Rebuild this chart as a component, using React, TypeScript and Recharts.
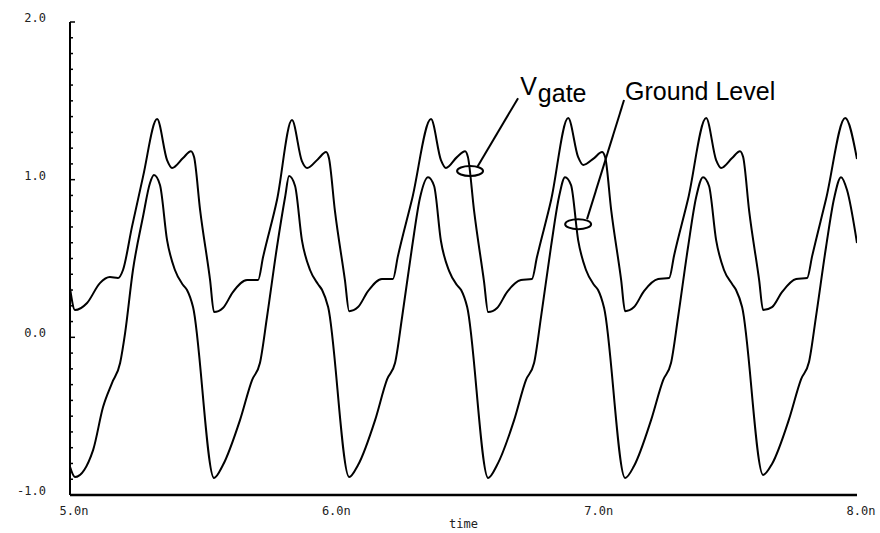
import { Label, Line, LineChart, ReferenceDot, ReferenceLine, XAxis, YAxis } from "recharts";

// simulated waveforms, time in ns, values in V
const vgateTime = [
  5.0, 5.019, 5.065, 5.114, 5.152, 5.183, 5.202, 5.236, 5.278,
  5.332, 5.37, 5.389, 5.431, 5.461, 5.473, 5.496, 5.534, 5.549, 5.583, 5.621, 5.675, 5.717, 5.736, 5.789,
  5.846, 5.884, 5.904, 5.945, 5.976, 5.987, 6.01, 6.048, 6.064, 6.098, 6.136, 6.189, 6.231, 6.25, 6.304,
  6.376, 6.414, 6.433, 6.475, 6.506, 6.517, 6.54, 6.578, 6.594, 6.628, 6.666, 6.719, 6.761, 6.78, 6.834,
  6.899, 6.937, 6.956, 6.998, 7.028, 7.04, 7.063, 7.101, 7.116, 7.15, 7.188, 7.242, 7.284, 7.303, 7.356,
  7.425, 7.463, 7.482, 7.524, 7.554, 7.566, 7.589, 7.627, 7.642, 7.676, 7.714, 7.768, 7.81, 7.829, 7.882,
  7.955, 8.0,
];
const vgateVolts = [
  0.313, 0.173, 0.218, 0.344, 0.382, 0.376, 0.427, 0.699, 1.016,
  1.384, 1.124, 1.074, 1.137, 1.181, 1.143, 0.807, 0.363, 0.16, 0.186, 0.287, 0.363, 0.363, 0.509, 0.871,
  1.378, 1.118, 1.074, 1.13, 1.175, 1.137, 0.8, 0.363, 0.166, 0.192, 0.293, 0.37, 0.37, 0.515, 0.877,
  1.384, 1.124, 1.074, 1.143, 1.181, 1.143, 0.807, 0.357, 0.16, 0.186, 0.287, 0.363, 0.37, 0.509, 0.871,
  1.391, 1.143, 1.093, 1.137, 1.175, 1.143, 0.807, 0.363, 0.166, 0.192, 0.293, 0.37, 0.376, 0.521, 0.877,
  1.391, 1.124, 1.074, 1.137, 1.181, 1.143, 0.8, 0.363, 0.173, 0.192, 0.287, 0.37, 0.376, 0.515, 0.877,
  1.391, 1.131,
];

const groundTime = [
  5.0, 5.019, 5.088, 5.126, 5.16, 5.191, 5.21, 5.24, 5.278, 5.305,
  5.32, 5.343, 5.37, 5.4, 5.431, 5.446, 5.469, 5.549, 5.583, 5.648, 5.694, 5.724, 5.751, 5.789, 5.82,
  5.835, 5.858, 5.884, 5.915, 5.945, 5.961, 5.984, 6.064, 6.098, 6.163, 6.209, 6.239, 6.266, 6.304, 6.334,
  6.365, 6.388, 6.414, 6.445, 6.475, 6.491, 6.514, 6.594, 6.628, 6.693, 6.738, 6.769, 6.796, 6.834, 6.864,
  6.887, 6.91, 6.937, 6.967, 6.998, 7.013, 7.036, 7.116, 7.15, 7.215, 7.261, 7.291, 7.318, 7.356, 7.387,
  7.413, 7.436, 7.463, 7.493, 7.524, 7.539, 7.562, 7.642, 7.676, 7.741, 7.787, 7.817, 7.844, 7.882, 7.913,
  7.939, 7.962, 8.0,
];
const groundVolts = [
  -0.822, -0.886, -0.715, -0.442, -0.29, -0.163, 0.027, 0.427, 0.763, 0.979,
  1.029, 0.966, 0.617, 0.427, 0.332, 0.3, 0.192, -0.892, -0.81, -0.525, -0.271, -0.163, 0.129, 0.573, 0.89,
  1.023, 0.96, 0.617, 0.427, 0.338, 0.3, 0.192, -0.886, -0.81, -0.525, -0.265, -0.163, 0.129, 0.573, 0.884,
  1.016, 0.96, 0.611, 0.421, 0.332, 0.3, 0.192, -0.892, -0.81, -0.525, -0.271, -0.163, 0.135, 0.58, 0.89,
  1.016, 0.966, 0.617, 0.427, 0.332, 0.3, 0.186, -0.892, -0.816, -0.525, -0.271, -0.163, 0.129, 0.573, 0.89,
  1.016, 0.96, 0.617, 0.427, 0.338, 0.3, 0.192, -0.873, -0.803, -0.519, -0.265, -0.157, 0.135, 0.573, 0.884,
  1.016, 0.934, 0.598,
];

const timeTicks = [5, 6, 7, 8];
const timeLabels = ["5.0n", "6.0n", "7.0n", "8.0n"];
const voltTicks = [
  -1, -0.9, -0.8, -0.7, -0.6, -0.5, -0.4, -0.3, -0.2, -0.1,
  0, 0.1, 0.2, 0.3, 0.4, 0.5, 0.6, 0.7, 0.8, 0.9,
  1, 1.1, 1.2, 1.3, 1.4, 1.5, 1.6, 1.7, 1.8, 1.9, 2,
];

// callouts: [time, volts]
const vgateCallout = { ring: [6.525, 1.055], from: [6.552, 1.079], to: [6.708, 1.517], text: [6.716, 1.536] };
const groundCallout = { ring: [6.937, 0.718], from: [6.971, 0.75], to: [7.112, 1.505], text: [7.116, 1.505] };

const vgateData = vgateTime.map((t, i) => ({ t, v: vgateVolts[i] }));
const groundData = groundTime.map((t, i) => ({ t, v: groundVolts[i] }));

const tickFont = { fontFamily: "DejaVu Sans Mono", fontSize: 12, fill: "#222" };
const noteFont = { fontFamily: "Liberation Sans", fontSize: 25, fill: "#000" };

function VoltTick(props: any) {
  const { x, y, payload } = props;
  const v = payload.value as number;
  const major = Math.abs(v - Math.round(v)) < 1e-6;
  return (
    <g>
      <line x1={x} x2={x + (major ? 5 : 3)} y1={y} y2={y} stroke="#000" strokeWidth={1.5} />
      {major && (
        <text x={x - 24} y={y} textAnchor="end" {...tickFont}>
          {v.toFixed(1)}
        </text>
      )}
    </g>
  );
}

function TimeTick(props: any) {
  const { x, y, payload } = props;
  const idx = timeTicks.indexOf(payload.value);
  return (
    <text x={x + 4} y={y + 20} textAnchor="middle" {...tickFont}>
      {timeLabels[idx]}
    </text>
  );
}

const ring = (props: any) => (
  <ellipse cx={props.cx} cy={props.cy} rx={13} ry={5} fill="none" stroke="#000" strokeWidth={2} />
);

const vgateText = (props: any) => (
  <text x={props.cx} y={props.cy} {...noteFont}>
    <tspan>V</tspan>
    <tspan dy={7} dx={1}>gate</tspan>
  </text>
);

const groundText = (props: any) => (
  <text x={props.cx} y={props.cy} {...noteFont}>
    Ground Level
  </text>
);

export default function App() {
  return (
    <div style={{ width: 880, height: 533, background: "#fff" }}>
      <style>{"body{margin:0}"}</style>
      <LineChart width={880} height={533} margin={{ top: 22, right: 23, bottom: 0, left: 0 }}>
        <XAxis
          dataKey="t"
          type="number"
          domain={[5, 8]}
          ticks={timeTicks}
          interval={0}
          tickSize={0}
          tickMargin={0}
          tickLine={false}
          axisLine={{ stroke: "#000", strokeWidth: 2.5 }}
          height={38}
          tick={<TimeTick />}
          allowDataOverflow
        >
          <Label value="time" position="insideBottom" offset={5} style={tickFont} />
        </XAxis>
        <YAxis
          type="number"
          domain={[-1, 2]}
          ticks={voltTicks}
          interval={0}
          tickSize={0}
          tickMargin={0}
          tickLine={false}
          axisLine={{ stroke: "#000", strokeWidth: 2 }}
          width={70}
          tick={<VoltTick />}
          allowDataOverflow
        />
        <Line
          data={vgateData}
          dataKey="v"
          type="monotone"
          stroke="#000"
          strokeWidth={2}
          dot={false}
          isAnimationActive={false}
        />
        <Line
          data={groundData}
          dataKey="v"
          type="monotone"
          stroke="#000"
          strokeWidth={2}
          dot={false}
          isAnimationActive={false}
        />
        <ReferenceLine
          segment={[
            { x: vgateCallout.from[0], y: vgateCallout.from[1] },
            { x: vgateCallout.to[0], y: vgateCallout.to[1] },
          ]}
          stroke="#000"
          strokeWidth={2}
        />
        <ReferenceLine
          segment={[
            { x: groundCallout.from[0], y: groundCallout.from[1] },
            { x: groundCallout.to[0], y: groundCallout.to[1] },
          ]}
          stroke="#000"
          strokeWidth={2}
        />
        <ReferenceDot x={vgateCallout.ring[0]} y={vgateCallout.ring[1]} shape={ring} />
        <ReferenceDot x={groundCallout.ring[0]} y={groundCallout.ring[1]} shape={ring} />
        <ReferenceDot x={vgateCallout.text[0]} y={vgateCallout.text[1]} shape={vgateText} />
        <ReferenceDot x={groundCallout.text[0]} y={groundCallout.text[1]} shape={groundText} />
      </LineChart>
    </div>
  );
}
